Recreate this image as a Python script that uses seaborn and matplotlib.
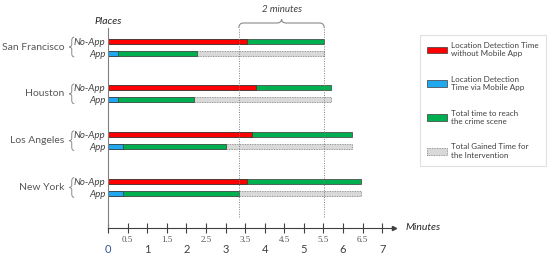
import numpy as np
import pandas as pd
import matplotlib
matplotlib.use("Agg")
import matplotlib.pyplot as plt
import seaborn as sns
from matplotlib.patches import Patch, PathPatch
from matplotlib.path import Path
import matplotlib.transforms as mtransforms

# -----------------------------
# Data (minutes)
# -----------------------------
cities = ["San Francisco", "Houston", "Los Angeles", "New York"]
detect_no_app = [3.54, 3.78, 3.67, 3.54]   # red
total_no_app = [5.52, 5.69, 6.24, 6.47]    # end of green (No-App) / end of grey (App)
detect_app = [0.26, 0.26, 0.39, 0.39]      # blue
total_app = [2.26, 2.19, 3.00, 3.34]       # end of green (App)
ref_lines = [3.34, 5.52]
major_ticks = [0, 1, 2, 3, 4, 5, 6, 7]
minor_ticks = [0.5, 1.5, 2.5, 3.5, 4.5, 5.5, 6.5]
legend_labels = ["Location Detection Time\nwithout Mobile App",
                 "Location Detection\nTime via Mobile App",
                 "Total time to reach\nthe crime scene",
                 "Total Gained Time for\nthe Intervention"]

RED = "#ff0000"
BLUE = "#1fa8ef"
GREEN = "#00b050"
GREY = "#d9d9d9"
EDGE = "#3a3a3a"
TXT = "#404040"

sns.set_theme(style="white")
plt.rcParams["font.family"] = ["Lato", "DejaVu Sans"]

fig = plt.figure(figsize=(5.5, 2.58), dpi=100)
ax = fig.add_axes([108 / 550, 30 / 258, 286 / 550, 200 / 258])

off = 0.128
bh = 0.107
pos = np.arange(len(cities))
df = pd.DataFrame({
    "city": cities,
    "y_no": pos - off,
    "y_app": pos + off,
    "detect_no_app": detect_no_app,
    "total_no_app": total_no_app,
    "detect_app": detect_app,
    "total_app": total_app,
})

common = dict(orient="h", native_scale=True, width=bh, saturation=1,
              errorbar=None, ax=ax)

# No-App rows: green total, red detection on top
sns.barplot(data=df, x="total_no_app", y="y_no", color=GREEN,
            edgecolor=EDGE, linewidth=0.5, **common)
sns.barplot(data=df, x="detect_no_app", y="y_no", color=RED,
            edgecolor=EDGE, linewidth=0.5, **common)
# App rows: grey gained time, green total, blue detection
sns.barplot(data=df, x="total_no_app", y="y_app", color=GREY,
            edgecolor="#7a7a7a", linewidth=0.6, linestyle=(0, (1, 1)), **common)
sns.barplot(data=df, x="total_app", y="y_app", color=GREEN,
            edgecolor=EDGE, linewidth=0.5, **common)
sns.barplot(data=df, x="detect_app", y="y_app", color=BLUE,
            edgecolor=EDGE, linewidth=0.5, **common)

ax.set_xlim(0, 7.3)
ax.set_ylim(3.865, -0.406)
ax.set_xlabel("")
ax.set_ylabel("")

# dotted reference lines
for v in ref_lines:
    ax.axvline(v, ymin=0.055, ymax=1.0, color="#7f7f7f", lw=0.7,
               linestyle=(0, (1, 1.5)), clip_on=False)

# brace "2 minutes"
trans = mtransforms.blended_transform_factory(ax.transData, ax.transAxes)
x0, x1 = ref_lines
xm = (x0 + x1) / 2
px = 1 / 200
yb, ybar, ytip = 1.0, 1.0 + 5 * px, 1.0 + 9 * px
dx = 0.12
verts = [(x0, yb), (x0, ybar), (x0 + dx, ybar),
         (xm - dx, ybar), (xm, ybar), (xm, ytip),
         (xm, ybar), (xm + dx, ybar),
         (x1 - dx, ybar), (x1, ybar), (x1, yb)]
codes = [Path.MOVETO, Path.CURVE3, Path.CURVE3,
         Path.LINETO, Path.CURVE3, Path.CURVE3,
         Path.CURVE3, Path.CURVE3,
         Path.LINETO, Path.CURVE3, Path.CURVE3]
ax.add_patch(PathPatch(Path(verts, codes), transform=trans, fill=False,
                       edgecolor="#8a8a8a", lw=0.8, clip_on=False))
ax.text(xm, 1.0 + 18 * px, "2 minutes", transform=trans, ha="center",
        va="center", fontsize=7, style="italic", color=TXT)

# y labels
yt = []
yl = []
for p in pos:
    yt += [p - off, p + off]
    yl += ["No-App", "App"]
ax.set_yticks(yt)
ax.set_yticklabels(yl, fontsize=7, style="italic", color=TXT)
ax.tick_params(axis="y", length=0, pad=2)

# city names with curly braces
ytrans = mtransforms.blended_transform_factory(ax.transAxes, ax.transData)
bx = 1 / 286
bw = 5 * bx
hb = 0.21
for p, c in zip(pos, cities):
    ax.text(-0.152, p, c, transform=ytrans, ha="right", va="center",
            fontsize=7.5, color="#595959")
    xr = -0.118          # right end (tips)
    xc = xr - bw / 2     # brace spine
    xl = xr - bw         # middle point
    v = [(xr, p - hb), (xc, p - hb), (xc, p - hb + 0.07),
         (xc, p - 0.05), (xc, p), (xl, p),
         (xc, p), (xc, p + 0.05),
         (xc, p + hb - 0.07), (xc, p + hb), (xr, p + hb)]
    cd = [Path.MOVETO, Path.CURVE3, Path.CURVE3,
          Path.LINETO, Path.CURVE3, Path.CURVE3,
          Path.CURVE3, Path.CURVE3,
          Path.LINETO, Path.CURVE3, Path.CURVE3]
    ax.add_patch(PathPatch(Path(v, cd), transform=ytrans, fill=False,
                           edgecolor="#8a8a8a", lw=0.7, clip_on=False))

ax.text(0.0, 1.0 + 6 * px, "Places", transform=ax.transAxes, ha="center",
        va="center", fontsize=7.5, style="italic", color="#262626")

# x axis
ax.set_xticks(major_ticks)
ax.set_xticklabels([str(t) for t in major_ticks], fontsize=8, color=TXT)
ax.get_xticklabels()[0].set_color("#2f5597")
ax.set_xticks(minor_ticks, minor=True)
ax.set_xticklabels([str(t) for t in minor_ticks], minor=True, fontsize=6.5,
                   color="#555555", family=["Liberation Serif", "DejaVu Serif"])
ax.tick_params(axis="x", which="major", direction="inout", length=7, width=0.8,
               color=TXT, pad=8, bottom=True)
ax.tick_params(axis="x", which="minor", direction="inout", length=7, width=0.8,
               color=TXT, pad=2, bottom=True)

for s in ["top", "right"]:
    ax.spines[s].set_visible(False)
ax.spines["bottom"].set_color(TXT)
ax.spines["bottom"].set_linewidth(0.8)
ax.spines["left"].set_color("#808080")
ax.spines["left"].set_linewidth(0.8)
ax.plot(1, 0, ">", transform=ax.transAxes, clip_on=False, ms=3, color=TXT)
ax.text(1.04, 0, "Minutes", transform=ax.transAxes, ha="left", va="center",
        fontsize=7.5, style="italic", color="#262626")

# legend
handles = [
    Patch(facecolor=RED, edgecolor=EDGE, lw=0.5),
    Patch(facecolor=BLUE, edgecolor=EDGE, lw=0.5),
    Patch(facecolor=GREEN, edgecolor=EDGE, lw=0.5),
    Patch(facecolor=GREY, edgecolor="#7a7a7a", lw=0.6, linestyle=(0, (1, 1))),
]
leg = fig.legend(handles, legend_labels, loc="upper left",
                 bbox_to_anchor=(420 / 550, 1 - 35 / 258), fontsize=5.8,
                 frameon=True, fancybox=False, edgecolor="#d9d9d9",
                 handlelength=2.4, handleheight=0.9, labelspacing=2.3,
                 borderpad=0.9, handletextpad=0.6, borderaxespad=0)
leg.get_frame().set_linewidth(0.8)
for t in leg.get_texts():
    t.set_color(TXT)

fig.savefig("out.png", dpi=100)
